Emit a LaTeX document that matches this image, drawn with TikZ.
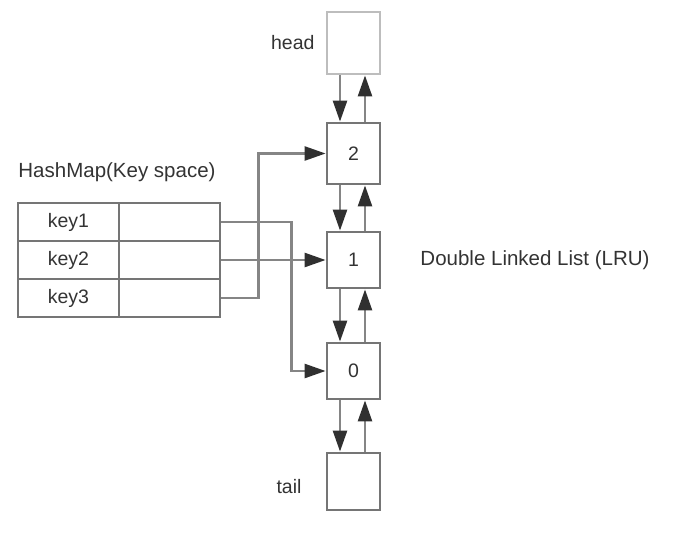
\documentclass[tikz,border=0pt]{standalone}
\usepackage{fontspec}
\setmainfont{Liberation Sans}
\usetikzlibrary{arrows.meta,calc}
\definecolor{boxc}{HTML}{757575}
\definecolor{headc}{HTML}{BDBDBD}
\definecolor{linec}{HTML}{858585}
\definecolor{tipc}{HTML}{303030}
\definecolor{txtc}{HTML}{333333}
\begin{document}
\begin{tikzpicture}[x=1pt,y=-1pt,
  every node/.style={font=\fontsize{19.5}{23}\selectfont, text=txtc},
  big/.style={font=\fontsize{20.5}{24}\selectfont},
  lbox/.style={draw=boxc, line width=2.8pt, fill=white, minimum width=53pt, minimum height=58pt, inner sep=0pt},
  cell/.style={draw=boxc, line width=2.8pt, minimum width=101pt, minimum height=38pt, inner sep=0pt},
  arr/.style={draw=linec, line width=2.5pt, -{Triangle[length=21pt,width=14pt,color=tipc]}},
]
\useasboundingbox (0,0) rectangle (680,538);
% list nodes
\node[lbox, draw=headc, minimum height=62pt] (head) at (353.5,43) {};
\node[lbox, minimum height=61pt] (n2) at (353.5,153.5) {2};
\node[lbox, minimum height=56pt] (n1) at (353.5,260) {1};
\node[lbox, minimum height=56pt] (n0) at (353.5,371) {0};
\node[lbox, minimum height=57pt] (tail) at (353.5,481.5) {};
% labels
\node[anchor=east] (lhead) at (318,43) {head};
\node[anchor=east] (ltail) at (305,487) {tail};
\node[big] (lhash) at (117,172) {HashMap(Key space)};
\node[big] (ldll) at (535,260) {Double Linked List (LRU)};
% table
\node[cell] (k1) at (68.5,222) {key1};
\node[cell] (v1) at (169.5,222) {};
\node[cell] (k2) at (68.5,260) {key2};
\node[cell] (v2) at (169.5,260) {};
\node[cell] (k3) at (68.5,298) {key3};
\node[cell] (v3) at (169.5,298) {};
% list links
\foreach \a/\b in {head/n2, n2/n1, n1/n0, n0/tail}{
  \draw[arr] ($(\a.south)+(-13.5,0)$) -- ($(\b.north)+(-13.5,0)$);
  \draw[arr] ($(\b.north)+(11.5,0)$) -- ($(\a.south)+(11.5,0)$);
}
% hash links
\draw[arr] (v1.east) -- ++(70,0) |- (n0.west);
\draw[arr] (v2.east) -- (n1.west);
\draw[arr] (v3.east) -- ++(37,0) |- (n2.west);
\end{tikzpicture}
\end{document}
